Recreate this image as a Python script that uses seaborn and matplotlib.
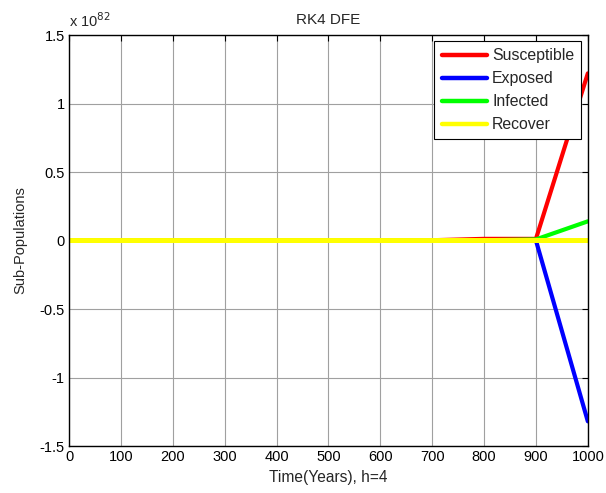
import numpy as np
import pandas as pd
import matplotlib
matplotlib.use('Agg')
import matplotlib.pyplot as plt
import seaborn as sns

# ── Data (values in units of 1e82) ─────────────────────────────
time = [0, 100, 200, 300, 400, 500, 600, 700, 800, 900, 1000]
susceptible = [0, 0, 0, 0, 0, 0, 0, 0.002, 0.012, 0.012, 1.22]
exposed     = [0, 0, 0, 0, 0, 0, 0, 0, 0, 0, -1.32]
infected    = [0, 0, 0, 0, 0, 0, 0, 0, 0.002, 0.008, 0.14]
recover     = [0, 0, 0, 0, 0, 0, 0, 0, 0, 0, 0]

labels = ['Susceptible', 'Exposed', 'Infected', 'Recover']
colors = ['#ff0000', '#0000ff', '#00ff00', '#ffff00']

df = pd.DataFrame({'Time': time, 'Susceptible': susceptible, 'Exposed': exposed,
                   'Infected': infected, 'Recover': recover})
long_df = df.melt(id_vars='Time', var_name='Group', value_name='Value')

sns.set_style('white')
plt.rcParams['font.family'] = ['Liberation Sans', 'DejaVu Sans']
plt.rcParams['font.size'] = 10

fig = plt.figure(figsize=(6.06, 4.93), dpi=100)
ax = fig.add_axes([0.1139, 0.0953, 0.8561, 0.8337])

sns.lineplot(data=long_df, x='Time', y='Value', hue='Group', hue_order=labels,
             palette=colors, linewidth=3, ax=ax, sort=False)
data_lines = ax.get_lines()
for ln in data_lines:
    ln.set_snap(False)
# yellow (last drawn) slightly thicker so it hides the others along zero
data_lines[3].set_linewidth(3.6)

ax.set_xlim(0, 1000)
ax.set_ylim(-1.5, 1.5)
ax.set_xticks(np.arange(0, 1001, 100))
ax.set_yticks(np.arange(-1.5, 1.51, 0.5))
ax.set_yticklabels(['-1.5', '-1', '-0.5', '0', '0.5', '1', '1.5'])
ax.grid(True, color='#a0a0a0', linewidth=0.8)
ax.tick_params(direction='in', top=True, right=True, length=4, width=0.8,
               labelsize=10.5, colors='black', pad=3)
for s in ax.spines.values():
    s.set_color('black')
    s.set_linewidth(1.0)

ax.set_title('RK4 DFE', fontsize=11, pad=8)
ax.set_xlabel('Time(Years), h=4', fontsize=11.2, labelpad=4)
ax.set_ylabel('Sub-Populations', fontsize=10.5, labelpad=9)
ax.text(0.0, 1.012, r'x 10$^{82}$', transform=ax.transAxes, fontsize=10.5,
        ha='left', va='bottom')

leg = ax.legend(loc='upper right', fontsize=11.4, frameon=True, fancybox=False,
                edgecolor='black', framealpha=1, handlelength=2.9,
                handletextpad=0.3, borderaxespad=0.4, labelspacing=0.5,
                borderpad=0.45)
leg.get_frame().set_linewidth(0.8)
for line in leg.get_lines():
    line.set_linewidth(3.2)

fig.savefig('out.png', dpi=100)
